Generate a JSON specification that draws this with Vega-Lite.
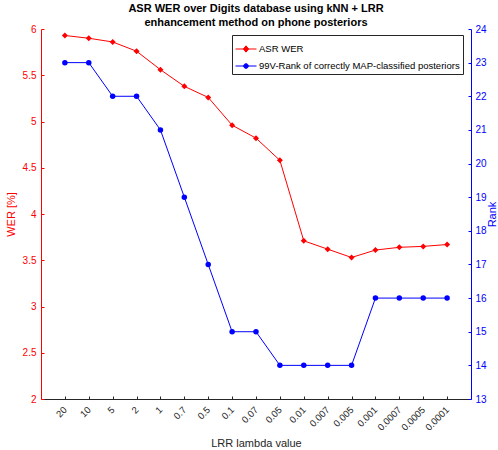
{
  "$schema": "https://vega.github.io/schema/vega-lite/v6.json",
  "autosize": "none",
  "padding": {"left": 41, "top": 29, "right": 27, "bottom": 51},
  "width": 430,
  "height": 370,
  "background": "white",
  "config": {
    "font": "Liberation Sans",
    "view": {"stroke": null},
    "axis": {"grid": false, "labelFontSize": 10, "titleFontSize": 11, "titleFontWeight": "normal", "tickSize": -3, "domainWidth": 1, "tickWidth": 1}
  },
  "title": {
    "text": ["ASR WER over Digits database using kNN + LRR", "enhancement method on phone posteriors"],
    "fontSize": 11,
    "fontWeight": "bold",
    "color": "#000000",
    "anchor": "middle",
    "offset": -4,
    "lineHeight": 14
  },
  "data": {
    "values": [
      {"lambda": "20", "wer": 5.93, "rank": 23},
      {"lambda": "10", "wer": 5.90, "rank": 23},
      {"lambda": "5", "wer": 5.86, "rank": 22},
      {"lambda": "2", "wer": 5.76, "rank": 22},
      {"lambda": "1", "wer": 5.56, "rank": 21},
      {"lambda": "0.7", "wer": 5.38, "rank": 19},
      {"lambda": "0.5", "wer": 5.26, "rank": 17},
      {"lambda": "0.1", "wer": 4.96, "rank": 15},
      {"lambda": "0.07", "wer": 4.82, "rank": 15},
      {"lambda": "0.05", "wer": 4.58, "rank": 14},
      {"lambda": "0.01", "wer": 3.71, "rank": 14},
      {"lambda": "0.007", "wer": 3.62, "rank": 14},
      {"lambda": "0.005", "wer": 3.53, "rank": 14},
      {"lambda": "0.001", "wer": 3.61, "rank": 16},
      {"lambda": "0.0007", "wer": 3.64, "rank": 16},
      {"lambda": "0.0005", "wer": 3.65, "rank": 16},
      {"lambda": "0.0001", "wer": 3.67, "rank": 16}
    ]
  },
  "encoding": {
    "x": {
      "field": "lambda",
      "type": "ordinal",
      "sort": null,
      "scale": {"type": "point", "padding": 1},
      "axis": {
        "title": "LRR lambda value",
        "labelAngle": -45,
        "labelAlign": "right",
        "labelBaseline": "middle",
        "labelPadding": 12,
        "labelFontSize": 9.5,
        "titlePadding": 6,
        "domainColor": "#262626",
        "tickColor": "#262626",
        "labelColor": "#262626",
        "titleColor": "#262626"
      }
    }
  },
  "layer": [
    {
      "mark": {"type": "line", "color": "#ff0000", "strokeWidth": 1, "point": {"filled": true, "shape": "diamond", "size": 36, "color": "#ff0000"}},
      "encoding": {
        "y": {
          "field": "wer",
          "type": "quantitative",
          "scale": {"domain": [2, 6], "nice": false, "zero": false},
          "axis": {
            "title": "WER [%]",
            "values": [2, 2.5, 3, 3.5, 4, 4.5, 5, 5.5, 6],
            "format": "~g",
            "labelPadding": 8,
            "titlePadding": 6,
            "domainColor": "#ff0000",
            "tickColor": "#ff0000",
            "labelColor": "#ff0000",
            "titleColor": "#ff0000"
          }
        },
        "color": {
          "datum": "ASR WER",
          "type": "nominal",
          "scale": {"domain": ["ASR WER", "99V-Rank of correctly MAP-classified posteriors"], "range": ["#ff0000", "#0000ff"]},
          "legend": {
            "title": null,
            "orient": "none",
            "legendX": 191,
            "legendY": 6,
            "strokeColor": "#262626",
            "fillColor": "white",
            "padding": 3,
            "labelFontSize": 9.5,
            "labelLimit": 400,
            "labelColor": "#000000",
            "symbolSize": 441,
            "symbolStrokeWidth": 1,
            "rowPadding": 0,
            "labelOffset": 2,
            "encode": {
              "symbols": {
                "update": {
                  "shape": {"signal": "datum.value === 'ASR WER' ? 'M-1,0H1M0,-0.3L0.25,0L0,0.3L-0.25,0Z' : 'M-1,0H1M0.22,0A0.22,0.22,0,1,1,-0.22,0A0.22,0.22,0,1,1,0.22,0Z'"},
                  "fill": {"signal": "datum.value === 'ASR WER' ? '#ff0000' : '#0000ff'"},
                  "stroke": {"signal": "datum.value === 'ASR WER' ? '#ff0000' : '#0000ff'"},
                  "fillOpacity": {"value": 1}
                }
              }
            }
          }
        }
      }
    },
    {
      "mark": {"type": "line", "color": "#0000ff", "strokeWidth": 1, "point": {"filled": true, "shape": "circle", "size": 30, "color": "#0000ff"}},
      "encoding": {
        "y": {
          "field": "rank",
          "type": "quantitative",
          "scale": {"domain": [13, 24], "nice": false, "zero": false},
          "axis": {
            "orient": "right",
            "title": "Rank",
            "values": [13, 14, 15, 16, 17, 18, 19, 20, 21, 22, 23, 24],
            "labelPadding": 7,
            "titlePadding": 11,
            "titleAngle": -90,
            "domainColor": "#0000ff",
            "tickColor": "#0000ff",
            "labelColor": "#0000ff",
            "titleColor": "#0000ff"
          }
        },
        "color": {"datum": "99V-Rank of correctly MAP-classified posteriors", "type": "nominal"}
      }
    }
  ],
  "resolve": {"scale": {"y": "independent"}}
}
